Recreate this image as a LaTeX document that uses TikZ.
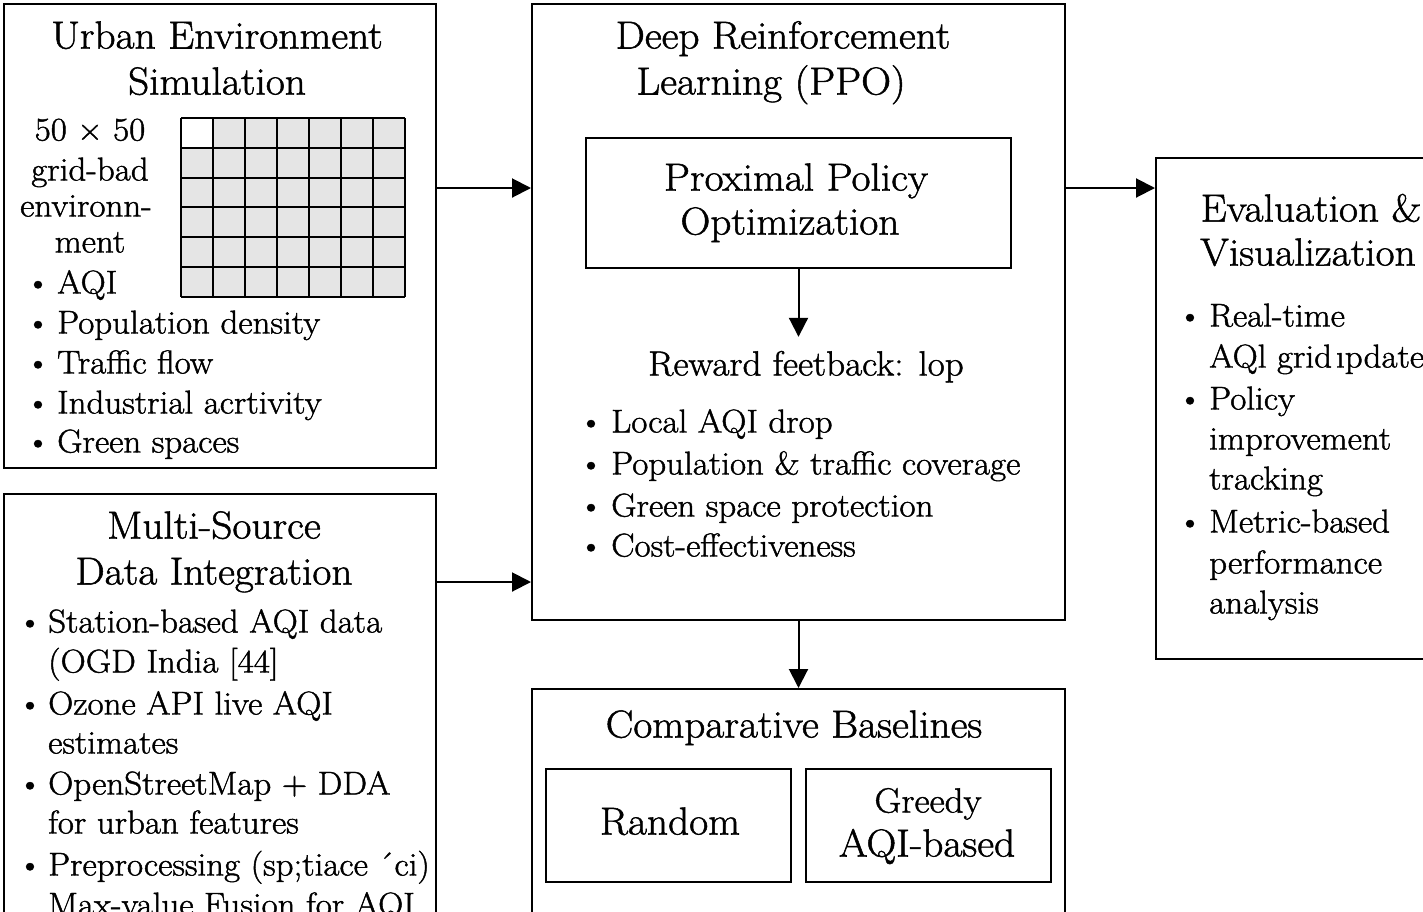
\documentclass[tikz,border=0pt]{standalone}
\usepackage{fontspec}
\setmainfont{Latin Modern Roman}[FakeStretch=1.06, FakeBold=1.3]
\usetikzlibrary{arrows.meta}

\newcommand{\headsize}{\fontsize{39}{46}\selectfont}
\newcommand{\itemsize}{\fontsize{33}{40}\selectfont}
\newcommand{\loopsize}{\fontsize{35}{40}\selectfont}

\tikzset{
  panel/.style={draw, line width=2pt, inner sep=0pt},
  head/.style={font=\headsize, inner sep=0pt, text height=0.75em, text depth=0.05em, yshift=-7pt},
  entry/.style={font=\itemsize, inner sep=0pt, anchor=west, text height=0.75em, text depth=0.05em, yshift=-7pt},
  dot/.style={font=\itemsize, inner sep=0pt, text height=0.75em, text depth=0.05em, yshift=-7pt},
  flow/.style={line width=2pt, -{Triangle[length=19pt,width=19pt]}}
}

\begin{document}
\begin{tikzpicture}[x=1pt,y=-1pt]
\useasboundingbox (0,0) rectangle (1423,911);
\clip (0,0) rectangle (1423,911);

% boxes
\node[panel, minimum width=432pt, minimum height=464pt] (urban) at (220,236) {};
\node[panel, minimum width=432pt, minimum height=466pt] (multi) at (220,727) {};
\node[panel, minimum width=533pt, minimum height=616pt] (drl) at (798.5,312) {};
\node[panel, minimum width=425pt, minimum height=130pt] (ppo) at (798.5,203) {};
\node[panel, minimum width=533pt, minimum height=271pt] (comp) at (798.5,824.5) {};
\node[panel, minimum width=245pt, minimum height=113pt] (random) at (668.5,825.5) {};
\node[panel, minimum width=245pt, minimum height=113pt] (greedy) at (928.5,825.5) {};
\node[panel, minimum width=324pt, minimum height=501pt] (evalbox) at (1318,408.5) {};

% urban environment simulation
\node[head] (urbanA) at (217,38) {Urban Environment};
\node[head] (urbanB) at (217,84) {Simulation};
\node[dot] (gridA) at (90,130) {50 × 50};
\node[dot] (gridB) at (90,170) {grid-bad};
\node[dot] (gridC) at (86,206) {environn-};
\node[dot] (gridD) at (90,242) {ment};

\fill[gray!20] (181,118) rectangle (405,297);
\fill[white] (181,118) rectangle (213,148);
\foreach \i in {0,...,7}
  \draw[line width=2pt] (181+32*\i,118) -- (181+32*\i,297);
\foreach \j in {0,...,6}
  \draw[line width=2pt] (181,118+29.83*\j) -- (405,118+29.83*\j);

\foreach \y/\t [count=\i] in {283/AQI, 323/Population density, 363/Traffic flow,
    403/Industrial acrtivity, 442/Green spaces} {
  \node[dot] (ub\i) at (38,\y) {\textbullet};
  \node[entry] (ut\i) at (57,\y) {\t};
}

% multi-source data integration
\node[head] (multiA) at (214,528) {Multi-Source};
\node[head] (multiB) at (214,574) {Data Integration};
\foreach \y [count=\i] in {622,704,784,865}
  \node[dot] (mb\i) at (30,\y) {\textbullet};
\foreach \y/\t [count=\i] in {622/Station-based AQI data, 662/{(OGD India [44]},
    704/Ozone API live AQI, 743/estimates, 784/OpenStreetMap + DDA,
    823/for urban features, 865/{Preprocessing (sp;tiace ´ci)},
    905/Max-value Fusion for AQI}
  \node[entry] (mt\i) at (48,\y) {\t};

% deep reinforcement learning
\node[head] (drlA) at (783,38) {Deep Reinforcement};
\node[head] (drlB) at (771,84) {Learning (PPO)};
\node[head] (ppoA) at (796,180) {Proximal Policy};
\node[head] (ppoB) at (790,224) {Optimization};
\node[dot, font=\loopsize] (reward) at (806,365) {Reward feetback: lop};
\foreach \y/\t [count=\i] in {422/Local AQI drop, 464/Population \& traffic coverage,
    506/Green space protection, 546/Cost-effectiveness} {
  \node[dot] (db\i) at (591,\y) {\textbullet};
  \node[entry] (dt\i) at (611,\y) {\t};
}

% comparative baselines
\node[head] (compA) at (794,727) {Comparative Baselines};
\node[head] (randomA) at (670,824) {Random};
\node[head, font=\loopsize] (greedyA) at (928,802) {Greedy};
\node[head] (greedyB) at (927,846) {AQI-based};

% evaluation and visualization
\node[head] (evalA) at (1311,211) {Evaluation \&};
\node[head] (evalB) at (1308,255) {Visualization};
\foreach \y [count=\i] in {316,399,522}
  \node[dot] (eb\i) at (1190,\y) {\textbullet};
\foreach \y/\t [count=\i] in {316/{Real-time}, 357/{AQl grid\kern4pt ıpdates}, 399/Policy,
    439/improvement, 479/tracking, 522/Metric-based, 563/performance, 603/analysis}
  \node[entry] (et\i) at (1209,\y) {\t};

% connectors
\coordinate (rowA) at (0,188);
\coordinate (rowB) at (0,582);
\draw[flow] (urban.east |- rowA) -- (drl.west |- rowA);
\draw[flow] (multi.east |- rowB) -- (drl.west |- rowB);
\draw[flow] (drl.east |- rowA) -- (evalbox.west |- rowA);
\draw[flow] (ppo.south) -- ([yshift=31pt]ppo.south |- reward.north);
\draw[flow] (drl.south) -- (comp.north);
\end{tikzpicture}
\end{document}
